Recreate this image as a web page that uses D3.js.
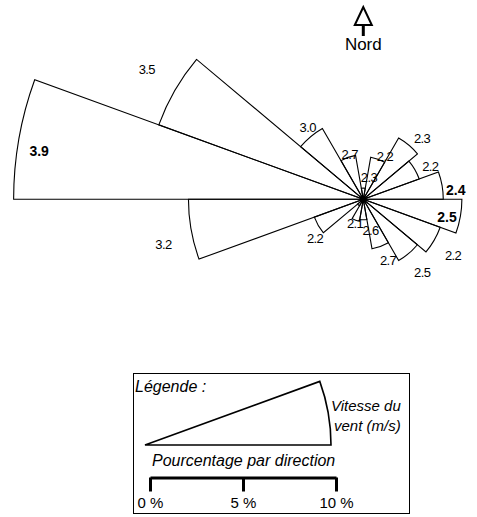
<!DOCTYPE html>
<html>
<head>
<meta charset="utf-8">
<script src="https://cdn.jsdelivr.net/npm/d3@7"></script>
<style>
  html, body { margin: 0; padding: 0; background: #fff; }
  svg { display: block; }
  text { font-family: "Liberation Sans", Arial, sans-serif; fill: #000; }
</style>
</head>
<body>
<svg id="rose" width="477" height="517"></svg>
<script>
// Direction of each sector centre (degrees clockwise from north), 20° wide
const directions = [0, 20, 40, 60, 80, 100, 120, 140, 160, 180, 200, 220, 240, 260, 280, 300, 320, 340];
// Share of observations per direction (%)
const frequency = [0.6, 2.3, 3.8, 3.2, 4.3, 5.3, 4.4, 3.8, 2.7, 1.1, 1.2, 0.4, 2.8, 9.4, 18.8, 11.7, 4.4, 2.4];
// Mean wind speed per direction (m/s)
const speed = ["2.3", "2.2", "2.3", "2.2", "2.4", "2.5", "2.2", "2.5", "2.7", "2.6", "2.1", null, "2.2", "3.2", "3.9", "3.5", "3.0", "2.7"];
// Legend scale ticks (%)
const scaleTicks = [0, 5, 10];

// Label placement: radial shift (px) and angular shift (deg) from the sector tip
const labelDr = [11.5, 5, 14, 15, 13, -13, 24, 23, 16, 12, 3, 0, 10, 30, -22, 35, 9, 2];
const labelDa = [14.5, 7, 4, 4, 4, 2, 2, 1, -2, -13, -1, 0, -9, -2.7, -1.6, 1, 2.3, 3];
const boldLabels = new Set([80, 100, 280]);

const svg = d3.select("#rose");
const cx = 363.3, cy = 199.3;
const rScale = d3.scaleLinear().domain([0, 10]).range([0, 186]);
const rad = d => d * Math.PI / 180;

const data = directions.map((dir, i) => ({
  dir, freq: frequency[i], speed: speed[i], dr: labelDr[i], da: labelDa[i]
}));

const arc = d3.arc()
  .innerRadius(0)
  .outerRadius(d => rScale(d.freq))
  .startAngle(d => rad(d.dir - 10))
  .endAngle(d => rad(d.dir + 10));

const rose = svg.append("g").attr("transform", `translate(${cx},${cy})`);

// speed labels
rose.selectAll("text.spd")
  .data(data.filter(d => d.speed))
  .join("text")
  .attr("class", "spd")
  .attr("x", d => (rScale(d.freq) + d.dr) * Math.sin(rad(d.dir + d.da)))
  .attr("y", d => -(rScale(d.freq) + d.dr) * Math.cos(rad(d.dir + d.da)))
  .attr("text-anchor", "middle")
  .attr("dominant-baseline", "central")
  .style("font-size", d => boldLabels.has(d.dir) ? "14px" : "13px")
  .style("font-weight", d => boldLabels.has(d.dir) ? "bold" : "normal")
  .style("letter-spacing", d => boldLabels.has(d.dir) ? "0px" : "-0.6px")
  .text(d => d.speed);

// sectors
rose.selectAll("path.sector")
  .data(data)
  .join("path")
  .attr("class", "sector")
  .attr("d", arc)
  .attr("fill", "none")
  .attr("stroke", "#000")
  .attr("stroke-width", 1.1);

// hub where all sector edges meet
rose.append("circle").attr("r", 3).attr("fill", "#000");

// north arrow
const north = svg.append("g").attr("transform", `translate(${cx},0)`);
north.append("path")
  .attr("d", "M0,7 L-8.5,25 L8.5,25 Z")
  .attr("fill", "none")
  .attr("stroke", "#000")
  .attr("stroke-width", 2)
  .attr("stroke-linejoin", "miter");
north.append("line")
  .attr("x1", 0).attr("y1", 25).attr("x2", 0).attr("y2", 36)
  .attr("stroke", "#000").attr("stroke-width", 3);
north.append("text")
  .attr("x", 0).attr("y", 50)
  .attr("text-anchor", "middle")
  .style("font-size", "17px")
  .text("Nord");

// legend
const legend = svg.append("g");
legend.append("rect")
  .attr("x", 133.5).attr("y", 373.5)
  .attr("width", 276).attr("height", 140)
  .attr("fill", "none").attr("stroke", "#000").attr("stroke-width", 1);

legend.append("text")
  .attr("x", 135).attr("y", 391.5)
  .style("font-size", "16px").style("font-style", "italic")
  .text("Légende :");

const legendArc = d3.arc()
  .innerRadius(0)
  .outerRadius(rScale(10))
  .startAngle(rad(70))
  .endAngle(rad(90));
legend.append("path")
  .attr("transform", "translate(145,445)")
  .attr("d", legendArc())
  .attr("fill", "none")
  .attr("stroke", "#000")
  .attr("stroke-width", 1.6);

legend.append("text")
  .attr("x", 331).attr("y", 411)
  .style("font-size", "15px").style("font-style", "italic")
  .text("Vitesse du");
legend.append("text")
  .attr("x", 334).attr("y", 431)
  .style("font-size", "15px").style("font-style", "italic")
  .text("vent (m/s)");

legend.append("text")
  .attr("x", 152).attr("y", 466)
  .style("font-size", "16px").style("font-style", "italic")
  .text("Pourcentage par direction");

// percentage scale bar
const xBar = d3.scaleLinear().domain([0, 10]).range([150, 150 + rScale(10)]);
const axis = d3.axisBottom(xBar)
  .tickValues(scaleTicks)
  .tickSizeInner(14)
  .tickSizeOuter(0)
  .tickPadding(6)
  .tickFormat(d => d + " %");
const ax = legend.append("g")
  .attr("transform", "translate(0,477.5)")
  .call(axis);
ax.select(".domain").attr("stroke", "#000").attr("stroke-width", 3);
ax.selectAll(".tick line").attr("stroke", "#000").attr("stroke-width", 3);
ax.selectAll(".tick text")
  .attr("fill", "#000")
  .style("font-size", "15px")
  .style("font-family", "'Liberation Sans', Arial, sans-serif");
</script>
</body>
</html>
